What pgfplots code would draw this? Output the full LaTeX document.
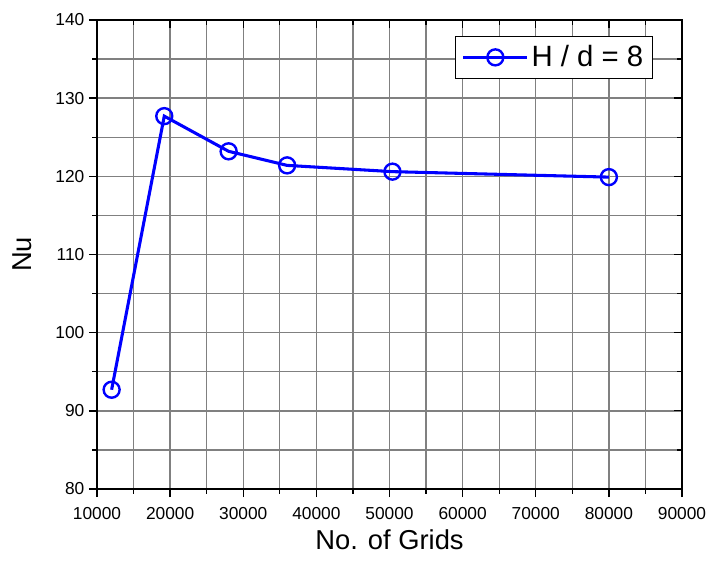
\documentclass[border=0pt]{standalone}
\usepackage{fontspec}
\setmainfont{Liberation Sans}
\usepackage{pgfplots}
\pgfplotsset{compat=1.18}
\begin{document}
\begin{tikzpicture}
\pgfplotsset{
 common/.style={
  width=438.75pt, height=351.75pt, scale only axis,
  xmin=10000, xmax=90000, ymin=80, ymax=140,
  xtick={10000,20000,...,90000}, minor x tick num=1,
  ytick={80,90,...,140}, minor y tick num=1,
  scaled x ticks=false,
  axis line style={line width=1.2pt},
  major tick length=6pt, minor tick length=3.5pt,
  every tick/.style={black, line width=1pt},
 }
}
\begin{axis}[common, name=main,
  grid=both,
  major grid style={gray, line width=1pt},
  minor grid style={gray, line width=1pt},
  xtick pos=left, ytick pos=left, tick align=outside,
  tick label style={font=\fontsize{13}{15}\selectfont},
  xticklabel style={yshift=-4pt},
  /pgf/number format/assume math mode=true,
  /pgf/number format/1000 sep={},
  xlabel={No. of Grids}, ylabel={Nu},
  label style={font=\fontsize{20.5}{24}\selectfont},
  xlabel style={at={(axis description cs:0.5,-0.1087)}, anchor=center},
  ylabel style={at={(axis description cs:-0.1276,0.5)}, anchor=center},
  legend style={at={(axis description cs:0.9504,0.9659)}, anchor=north east,
    draw=black, line width=0.6pt, font=\fontsize{22}{26}\selectfont,
    inner xsep=5pt, inner ysep=5pt},
  legend image code/.code={\draw[mark repeat=2,mark phase=2,#1] plot coordinates {(0pt,0pt)(24pt,0pt)(48pt,0pt)};},
]
\addplot[blue, line width=2.3pt, mark=o, mark size=6pt, mark options={line width=1.8pt}]
 coordinates {(12000,92.7) (19200,127.7) (28000,123.2) (36000,121.4) (50400,120.6) (80000,119.9)};
\addlegendentry{H / d = 8}
\end{axis}
\begin{axis}[common,
  xtick pos=right, ytick pos=right, tick align=inside,
  xticklabels={}, yticklabels={},
]
\end{axis}
\pgfresetboundingbox
\path[use as bounding box] ([xshift=-72.75pt,yshift=-55.5pt]main.south west) rectangle ([xshift=18pt,yshift=15pt]main.north east);
\end{tikzpicture}
\end{document}
